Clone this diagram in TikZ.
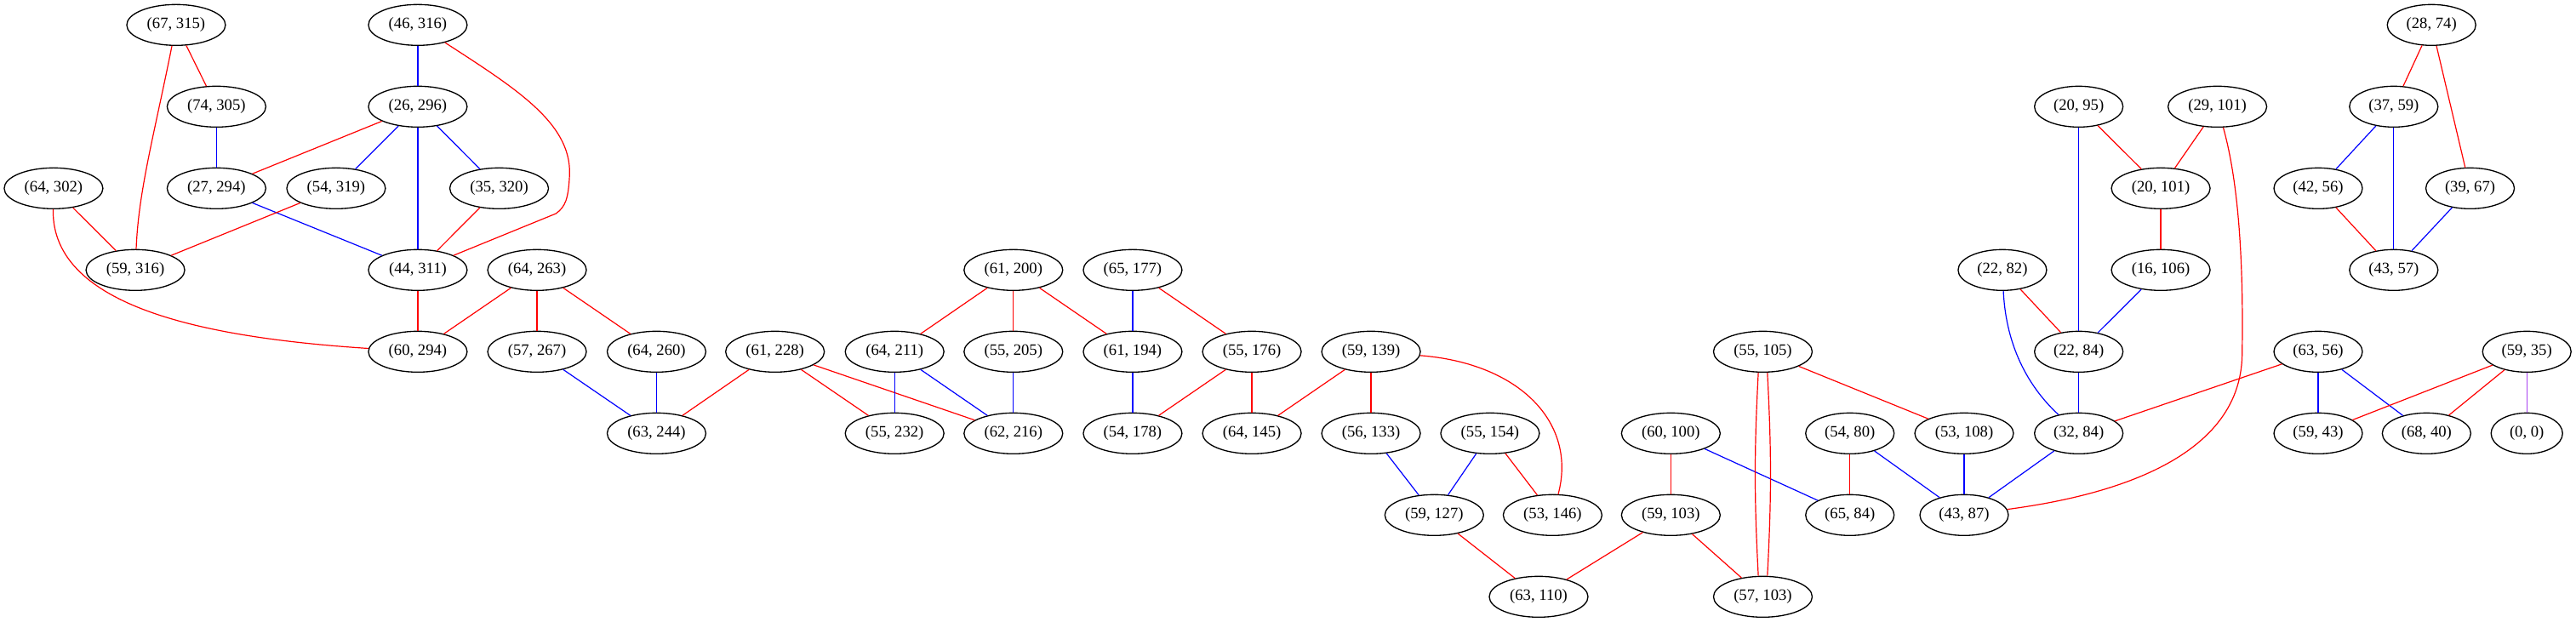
\documentclass[tikz,border=0pt]{standalone}
\usepackage{fontspec}
\setmainfont{Liberation Serif}
\usetikzlibrary{shapes.geometric}
\definecolor{edgepurple}{RGB}{168,64,240}
\tikzset{
  nd/.style={draw=black, line width=1pt, ellipse, minimum height=36pt, inner sep=0pt,
             font=\fontsize{14pt}{16pt}\selectfont},
  w3/.style={nd, minimum width=87pt},
  w2/.style={nd, minimum width=78pt},
  w1/.style={nd, minimum width=63pt},
  re/.style={draw=red, line width=0.9pt},
  be/.style={draw=blue, line width=0.9pt},
  pe/.style={draw=edgepurple, line width=0.9pt},
}
\begin{document}
\begin{tikzpicture}[x=1pt,y=1pt]
\useasboundingbox (0,0) rectangle (2270.25,548.25);
% row 0
\node[w3] (a67_315) at (155.2,526.25) {(67, 315)};
\node[w3] (a46_316) at (368.2,526.25) {(46, 316)};
\node[w2] (a28_74) at (2142.9,526.25) {(28, 74)};
% row 1
\node[w3] (a74_305) at (190.8,454.25) {(74, 305)};
\node[w3] (a26_296) at (368.2,454.25) {(26, 296)};
\node[w2] (a20_95) at (1832.0,454.25) {(20, 95)};
\node[w3] (a29_101) at (1954.2,454.25) {(29, 101)};
\node[w2] (a37_59) at (2109.6,454.25) {(37, 59)};
% row 2
\node[w3] (a64_302) at (47.2,382.25) {(64, 302)};
\node[w3] (a27_294) at (190.8,382.25) {(27, 294)};
\node[w3] (a54_319) at (296.2,382.25) {(54, 319)};
\node[w3] (a35_320) at (439.9,382.25) {(35, 320)};
\node[w3] (a20_101) at (1904.3,382.25) {(20, 101)};
\node[w2] (a42_56) at (2043.0,382.25) {(42, 56)};
\node[w2] (a39_67) at (2176.9,382.25) {(39, 67)};
% row 3
\node[w3] (a59_316) at (119.3,310.25) {(59, 316)};
\node[w3] (a44_311) at (368.2,310.25) {(44, 311)};
\node[w3] (a64_263) at (473.3,310.25) {(64, 263)};
\node[w3] (a61_200) at (893.1,310.25) {(61, 200)};
\node[w3] (a65_177) at (998.2,310.25) {(65, 177)};
\node[w2] (a22_82) at (1764.7,310.25) {(22, 82)};
\node[w3] (a16_106) at (1904.3,310.25) {(16, 106)};
\node[w2] (a43_57) at (2109.6,310.25) {(43, 57)};
% row 4
\node[w3] (a60_294) at (368.2,238.25) {(60, 294)};
\node[w3] (a57_267) at (473.3,238.25) {(57, 267)};
\node[w3] (a64_260) at (578.6,238.25) {(64, 260)};
\node[w3] (a61_228) at (683.0,238.25) {(61, 228)};
\node[w3] (a64_211) at (788.4,238.25) {(64, 211)};
\node[w3] (a55_205) at (893.1,238.25) {(55, 205)};
\node[w3] (a61_194) at (998.2,238.25) {(61, 194)};
\node[w3] (a55_176) at (1103.3,238.25) {(55, 176)};
\node[w3] (a59_139) at (1208.3,238.25) {(59, 139)};
\node[w3] (a55_105) at (1553.6,238.25) {(55, 105)};
\node[w2] (a22_84) at (1832.0,238.25) {(22, 84)};
\node[w2] (a63_56) at (2043.0,238.25) {(63, 56)};
\node[w2] (a59_35) at (2226.9,238.25) {(59, 35)};
% row 5
\node[w3] (a63_244) at (578.6,166.25) {(63, 244)};
\node[w3] (a55_232) at (788.4,166.25) {(55, 232)};
\node[w3] (a62_216) at (893.1,166.25) {(62, 216)};
\node[w3] (a54_178) at (998.2,166.25) {(54, 178)};
\node[w3] (a64_145) at (1103.3,166.25) {(64, 145)};
\node[w3] (a56_133) at (1208.3,166.25) {(56, 133)};
\node[w3] (a55_154) at (1313.2,166.25) {(55, 154)};
\node[w3] (a60_100) at (1472.5,166.25) {(60, 100)};
\node[w2] (a54_80) at (1630.3,166.25) {(54, 80)};
\node[w3] (a53_108) at (1731.0,166.25) {(53, 108)};
\node[w2] (a32_84) at (1832.0,166.25) {(32, 84)};
\node[w2] (a59_43) at (2043.0,166.25) {(59, 43)};
\node[w2] (a68_40) at (2138.5,166.25) {(68, 40)};
\node[w1] (a0_0) at (2226.9,166.25) {(0, 0)};
% row 6
\node[w3] (a59_127) at (1264.0,94.25) {(59, 127)};
\node[w3] (a53_146) at (1368.3,94.25) {(53, 146)};
\node[w3] (a59_103) at (1472.5,94.25) {(59, 103)};
\node[w2] (a65_84) at (1630.3,94.25) {(65, 84)};
\node[w2] (a43_87) at (1731.0,94.25) {(43, 87)};
% row 7
\node[w3] (a63_110) at (1356.0,22.25) {(63, 110)};
\node[w3] (a57_103) at (1553.6,22.25) {(57, 103)};

% edges: left cluster
\draw[re] (a67_315) -- (a74_305);
\draw[re] (a67_315) .. controls (136,430) and (122,380) .. (a59_316);
\draw[be] (a46_316) -- (a26_296);
\draw[re] (a46_316) .. controls (455,470) and (503,440) .. (502,395) .. controls (501,372) and (498,366) .. (490,360) -- (a44_311);
\draw[be] (a74_305) -- (a27_294);
\draw[re] (a26_296) -- (a27_294);
\draw[be] (a26_296) -- (a54_319);
\draw[be] (a26_296) -- (a44_311);
\draw[be] (a26_296) -- (a35_320);
\draw[re] (a64_302) -- (a59_316);
\draw[re] (a64_302) .. controls (45,275) and (190,250) .. (a60_294);
\draw[be] (a27_294) -- (a44_311);
\draw[re] (a54_319) -- (a59_316);
\draw[re] (a35_320) -- (a44_311);
\draw[re] (a44_311) -- (a60_294);
\draw[re] (a64_263) -- (a60_294);
\draw[re] (a64_263) -- (a57_267);
\draw[re] (a64_263) -- (a64_260);
\draw[be] (a57_267) -- (a63_244);
\draw[be] (a64_260) -- (a63_244);
\draw[re] (a61_228) -- (a63_244);
\draw[re] (a61_228) -- (a55_232);
\draw[re] (a61_228) -- (a62_216);
\draw[re] (a61_200) -- (a64_211);
\draw[re] (a61_200) -- (a55_205);
\draw[re] (a61_200) -- (a61_194);
\draw[be] (a64_211) -- (a55_232);
\draw[be] (a64_211) -- (a62_216);
\draw[be] (a55_205) -- (a62_216);
\draw[be] (a65_177) -- (a61_194);
\draw[re] (a65_177) -- (a55_176);
\draw[be] (a61_194) -- (a54_178);
\draw[re] (a55_176) -- (a54_178);
\draw[re] (a55_176) -- (a64_145);
% middle cluster
\draw[re] (a59_139) -- (a64_145);
\draw[re] (a59_139) -- (a56_133);
\draw[re] (a59_139) .. controls (1340,228) and (1390,175) .. (a53_146);
\draw[be] (a56_133) -- (a59_127);
\draw[be] (a55_154) -- (a59_127);
\draw[re] (a55_154) -- (a53_146);
\draw[re] (a59_127) -- (a63_110);
\draw[re] (a60_100) -- (a59_103);
\draw[be] (a60_100) -- (a65_84);
\draw[re] (a59_103) -- (a63_110);
\draw[re] (a59_103) -- (a57_103);
\draw[re] ([xshift=-4pt]a55_105.south) to[bend right=3] ([xshift=-4pt]a57_103.north);
\draw[re] ([xshift=4pt]a55_105.south) to[bend left=3] ([xshift=4pt]a57_103.north);
\draw[re] (a55_105) -- (a53_108);
\draw[re] (a54_80) -- (a65_84);
\draw[be] (a54_80) -- (a43_87);
\draw[be] (a53_108) -- (a43_87);
\draw[be] (a32_84) -- (a43_87);
\draw[re] (a29_101) .. controls (1975,380) and (1977,300) .. (1976,236) .. controls (1975,140) and (1850,110) .. (a43_87);
% right cluster
\draw[re] (a29_101) -- (a20_101);
\draw[re] (a20_95) -- (a20_101);
\draw[be] (a20_95) -- (a22_84);
\draw[re] (a20_101) -- (a16_106);
\draw[be] (a16_106) -- (a22_84);
\draw[re] (a22_82) -- (a22_84);
\draw[be] (a22_82) .. controls (1768,240) and (1790,205) .. (a32_84);
\draw[be] (a22_84) -- (a32_84);
\draw[re] (a63_56) -- (a32_84);
\draw[be] (a63_56) -- (a59_43);
\draw[be] (a63_56) -- (a68_40);
\draw[re] (a59_35) -- (a59_43);
\draw[re] (a59_35) -- (a68_40);
\draw[pe] (a59_35) -- (a0_0);
\draw[re] (a28_74) -- (a37_59);
\draw[re] (a28_74) -- (a39_67);
\draw[be] (a37_59) -- (a42_56);
\draw[be] (a37_59) -- (a43_57);
\draw[re] (a42_56) -- (a43_57);
\draw[be] (a39_67) -- (a43_57);
\end{tikzpicture}
\end{document}
